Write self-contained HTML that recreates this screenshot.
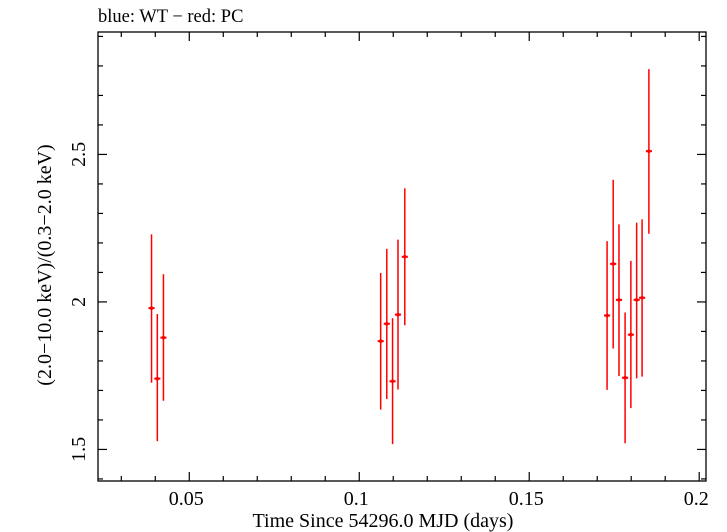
<!DOCTYPE html>
<html><head><meta charset="utf-8"><style>
body{margin:0;background:#fff;}
svg{display:block;font-family:"Liberation Serif",serif;}
</style></head><body>
<svg id="chart" width="727" height="532">
<text x="98" y="22" font-size="18.5">blue: WT − red: PC</text>
<rect x="98" y="32" width="608" height="449" fill="none" stroke="#000" stroke-width="1.3"/>
<g id="ticks"></g>
<g id="marks"></g>
<text x="383" y="527" font-size="20" text-anchor="middle">Time Since 54296.0 MJD (days)</text>
<text transform="translate(51,265) rotate(-90)" font-size="20" text-anchor="middle">(2.0−10.0 keV)/(0.3−2.0 keV)</text>
</svg>
<script>
const times=[0.0389,0.0406,0.0424,0.1063,0.1081,0.1098,0.1114,0.1134,0.1729,0.1747,0.1764,0.1782,0.1799,0.1816,0.1832,0.1852];
const ratios=[1.979,1.740,1.879,1.867,1.926,1.731,1.957,2.153,1.954,2.129,2.007,1.743,1.889,2.007,2.014,2.511];
const ratioHi=[2.229,1.959,2.094,2.098,2.180,1.945,2.211,2.385,2.206,2.414,2.263,1.964,2.139,2.269,2.280,2.789];
const ratioLo=[1.726,1.528,1.665,1.635,1.671,1.518,1.703,1.921,1.702,1.842,1.749,1.521,1.640,1.741,1.747,2.231];
const xTicks=[0.05,0.1,0.15,0.2];
const xTickLabels=["0.05","0.1","0.15","0.2"];
const yTicks=[1.5,2,2.5];
const yTickLabels=["1.5","2","2.5"];
const timeHalfWidth=0.0009;
const X0=98,X1=706,Y0=32,Y1=481,xmin=0.02315,xmax=0.2020,ymin=1.393,ymax=2.915;
const xs=t=>X0+(t-xmin)/(xmax-xmin)*(X1-X0);
const ys=v=>Y1-(v-ymin)/(ymax-ymin)*(Y1-Y0);
const NS="http://www.w3.org/2000/svg";
const tg=document.getElementById('ticks'),mg=document.getElementById('marks');
function ln(g,x1,y1,x2,y2,c,w){const l=document.createElementNS(NS,'line');l.setAttribute('x1',x1);l.setAttribute('y1',y1);l.setAttribute('x2',x2);l.setAttribute('y2',y2);l.setAttribute('stroke',c);l.setAttribute('stroke-width',w);g.appendChild(l);return l;}
for(let i=3;i<=20;i++){const t=i/100;const x=xs(t);const L=(i%5==0)?9:5;
 const a=ln(tg,x,Y1,x,Y1-L,'#000',1.2);
 const b=ln(tg,x,Y0,x,Y0+L,'#000',1.2);}
for(let i=14;i<=29;i++){const v=i/10;const y=ys(v);const L=(i%5==0)?9:5;
 const a=ln(tg,X0,y,X0+L,y,'#000',1.2);
 const b=ln(tg,X1,y,X1-L,y,'#000',1.2);}
xTicks.forEach((t,i)=>{const e=document.createElementNS(NS,'text');e.setAttribute('x',xs(t)-3);e.setAttribute('y',505);e.setAttribute('font-size','20');e.setAttribute('text-anchor','middle');e.textContent=xTickLabels[i];


tg.appendChild(e);});
yTicks.forEach((v,i)=>{const e=document.createElementNS(NS,'text');e.setAttribute('transform',`translate(85,${ys(v)}) rotate(-90)`);e.setAttribute('font-size','20');e.setAttribute('text-anchor','middle');e.textContent=yTickLabels[i];


tg.appendChild(e);});
times.forEach((t,i)=>{const g=document.createElementNS(NS,'g');


ln(g,xs(t),ys(ratioHi[i]),xs(t),ys(ratioLo[i]),'#f00',1.5);
ln(g,xs(t-timeHalfWidth),ys(ratios[i]),xs(t+timeHalfWidth),ys(ratios[i]),'#f00',2);
const c=document.createElementNS(NS,'circle');c.setAttribute('cx',xs(t));c.setAttribute('cy',ys(ratios[i]));c.setAttribute('r',1.8);c.setAttribute('fill','#f00');g.appendChild(c);
mg.appendChild(g);});
</script>
</body></html>
